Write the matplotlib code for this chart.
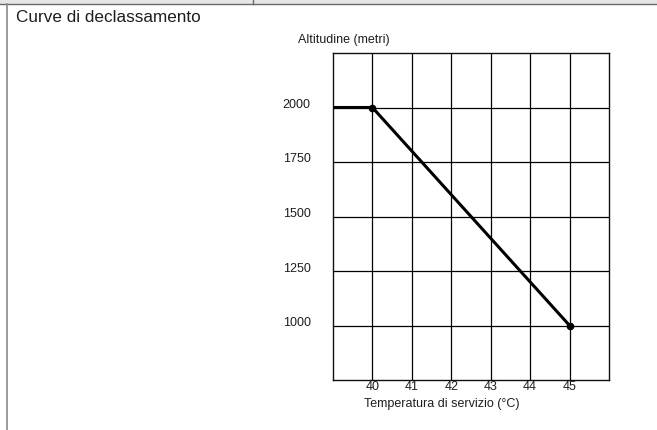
import matplotlib
matplotlib.use("Agg")
import matplotlib.pyplot as plt
from matplotlib.lines import Line2D
from matplotlib.patches import Rectangle
from matplotlib.transforms import ScaledTranslation

plt.rcParams['font.family'] = ['Liberation Sans', 'DejaVu Sans']

# ---- data ----
title = "Curve di declassamento"
ylabel = "Altitudine (metri)"
xlabel = "Temperatura di servizio (°C)"
line_temp = [39, 40, 45]
line_alt = [2000, 2000, 1000]
point_temp = [40, 45]
point_alt = [2000, 1000]
x_ticks = [40, 41, 42, 43, 44, 45]
y_ticks = [1000, 1250, 1500, 1750, 2000]
x_limits = [39, 46]
y_limits = [750, 2250]

W, H = 657, 430
fig = plt.figure(figsize=(W / 100, H / 100), dpi=100)
fig.patch.set_facecolor('white')

def fx(px):
    return px / W

def fy(py):
    return 1 - py / H

# top strip and frame
fig.add_artist(Rectangle((0, fy(3.5)), 1, 3.5 / H, transform=fig.transFigure,
                         facecolor='#e6e6e6', edgecolor='none'))
fig.add_artist(Line2D([0, 1], [fy(3.5), fy(3.5)], transform=fig.transFigure,
                      color='#6a6a6a', lw=1.0))
fig.add_artist(Line2D([fx(7), fx(7)], [0, fy(3.5)], transform=fig.transFigure,
                      color='#8a8a8a', lw=1.2))
fig.add_artist(Line2D([fx(252.7), fx(252.7)], [fy(0), fy(3.5)], transform=fig.transFigure,
                      color='#6a6a6a', lw=1.0))

text_color = '#1e1e1e'
fig.text(fx(15.5), fy(18), title, fontsize=12.3, color=text_color, ha='left', va='center')
fig.text(fx(344), fy(40), ylabel, fontsize=9, color=text_color, ha='center', va='center')

left, right, top, bottom = 333, 609, 53, 380
ax = fig.add_axes([fx(left), 1 - bottom / H, (right - left) / W, (bottom - top) / H])
ax.set_xlim(*x_limits)
ax.set_ylim(*y_limits)
ax.set_xticks(x_ticks)
ax.set_xticklabels([str(v) for v in x_ticks])
ax.set_yticks(y_ticks)
ax.set_yticklabels([str(v) for v in y_ticks])
ax.grid(True, color='black', lw=0.9)
ax.set_axisbelow(True)
for s in ax.spines.values():
    s.set_color('#111111')
    s.set_linewidth(1.0)
ax.tick_params(axis='both', length=0, labelsize=9, labelcolor=text_color)
ax.tick_params(axis='x', pad=0.5)
ax.tick_params(axis='y', pad=16)

ax.plot(line_temp, line_alt, color='black', lw=2.2, solid_capstyle='butt', zorder=3)
ax.plot(point_temp, point_alt, 'o', color='black', ms=4.5, zorder=4)

ax.set_xlabel(xlabel, fontsize=9, color=text_color, va='center')
ax.xaxis.set_label_coords((442 - left) / (right - left), -(404 - bottom) / (bottom - top))

off = ScaledTranslation(0, 4 / 100, fig.dpi_scale_trans)
for t in ax.yaxis.get_major_ticks():
    t.label1.set_transform(t.label1.get_transform() + off)

fig.savefig('out.png', dpi=100)
